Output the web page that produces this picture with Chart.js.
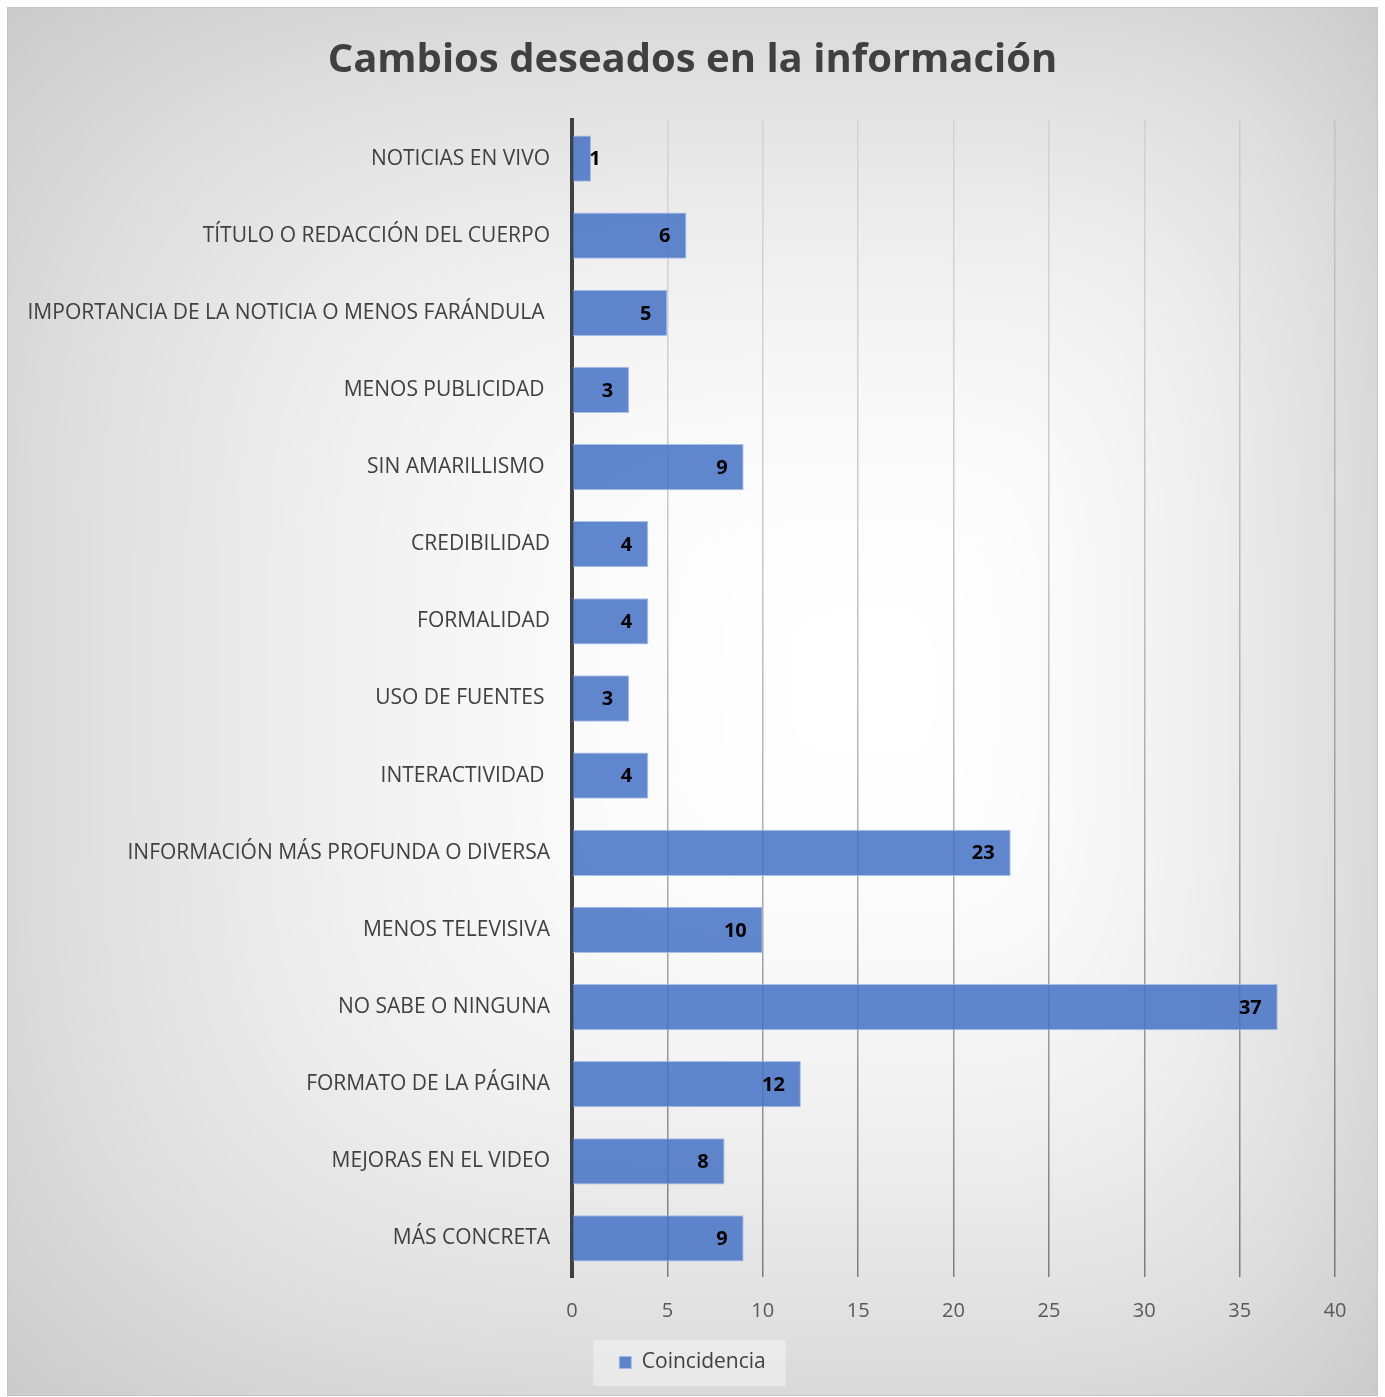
<!DOCTYPE html>
<html>
<head>
<meta charset="utf-8">
<script src="https://cdn.jsdelivr.net/npm/chart.js@4.4.1/dist/chart.umd.min.js"></script>
<style>
  html, body { margin: 0; padding: 0; background: #fff; }
  #wrap { position: absolute; left: 7px; top: 7px; width: 1369px; height: 1387px; border: 1px solid #c4c4c4; }
</style>
</head>
<body>
<div id="wrap"><canvas id="chart"></canvas></div>
<script>
// categorias y valores
var categories = [
  'NOTICIAS EN VIVO',
  'TÍTULO O REDACCIÓN DEL CUERPO',
  'IMPORTANCIA DE LA NOTICIA O MENOS FARÁNDULA ',
  'MENOS PUBLICIDAD ',
  'SIN AMARILLISMO ',
  'CREDIBILIDAD',
  'FORMALIDAD',
  'USO DE FUENTES ',
  'INTERACTIVIDAD ',
  'INFORMACIÓN MÁS PROFUNDA O DIVERSA',
  'MENOS TELEVISIVA',
  'NO SABE O NINGUNA',
  'FORMATO DE LA PÁGINA',
  'MEJORAS EN EL VIDEO',
  'MÁS CONCRETA'
];
var coincidencia = [1, 6, 5, 3, 9, 4, 4, 3, 4, 23, 10, 37, 12, 8, 9];
var xMin = 0, xMax = 40, xStep = 5;
var seriesName = 'Coincidencia';
var chartTitle = 'Cambios deseados en la información';

var FONT = "'Open Sans', sans-serif";

// fondo degradado tipo Excel (centro blanco, bordes grises)
var bgCache = null;
function makeBackground(w, h) {
  var c = document.createElement('canvas');
  c.width = w; c.height = h;
  var g = c.getContext('2d');
  var img = g.createImageData(w, h);
  var cx = 872, cy = 672;
  for (var y = 0; y < h; y++) {
    var dy = (y - cy) / (y < cy ? cy : h - cy);
    var dy4 = dy * dy * dy * dy;
    for (var x = 0; x < w; x++) {
      var dx = (x - cx) / (x < cx ? cx : w - cx);
      var t = Math.pow(dx * dx * dx * dx + dy4, 0.25);
      var v = Math.round(255 - 38 * Math.pow(t, 1.9));
      if (v < 190) v = 190;
      var i = (y * w + x) * 4;
      img.data[i] = v; img.data[i + 1] = v; img.data[i + 2] = v; img.data[i + 3] = 255;
    }
  }
  g.putImageData(img, 0, 0);
  return c;
}

var backgroundPlugin = {
  id: 'bgGradient',
  beforeDraw: function (chart) {
    var ctx = chart.ctx;
    if (!bgCache || bgCache.width !== chart.width || bgCache.height !== chart.height) {
      bgCache = makeBackground(chart.width, chart.height);
    }
    ctx.save();
    ctx.drawImage(bgCache, 0, 0);
    // recuadro claro detras de la leyenda
    var lg = chart.legend;
    if (lg && lg.legendHitBoxes && lg.legendHitBoxes.length) {
      var hb = lg.legendHitBoxes[0];
      ctx.fillStyle = 'rgba(255,255,255,0.38)';
      ctx.fillRect(hb.left - 26, hb.top - 12, hb.width + 46, hb.height + 25);
    }
    ctx.restore();
  }
};

var valueLabels = {
  id: 'valueLabels',
  afterDatasetsDraw: function (chart) {
    var ctx = chart.ctx;
    var meta = chart.getDatasetMeta(0);
    ctx.save();
    ctx.font = 'bold 20px ' + FONT;
    ctx.fillStyle = '#000';
    ctx.textAlign = 'right';
    ctx.textBaseline = 'middle';
    meta.data.forEach(function (bar, i) {
      var x = Math.max(bar.x - 16, bar.base + 28);
      ctx.fillText(String(coincidencia[i]), x, bar.y + 1);
    });
    ctx.restore();
  }
};

function gridColor(context) {
  if (context.tick && context.tick.value === 0) return 'rgba(0,0,0,0)';
  var chart = context.chart;
  var area = chart.chartArea;
  if (!area) return 'rgba(0,0,0,0.25)';
  var grad = chart.ctx.createLinearGradient(0, area.top, 0, area.bottom);
  grad.addColorStop(0, 'rgba(0,0,0,0.08)');
  grad.addColorStop(1, 'rgba(0,0,0,0.45)');
  return grad;
}

document.addEventListener('DOMContentLoaded', function () {
  var ctx = document.getElementById('chart').getContext('2d');
  new Chart(ctx, {
    type: 'bar',
    data: {
      labels: categories,
      datasets: [{
        label: seriesName,
        data: coincidencia,
        backgroundColor: 'rgba(68,114,196,0.85)',
        borderColor: 'rgba(160,186,230,0.9)',
        borderWidth: 1,
        barPercentage: 0.6,
        categoryPercentage: 1
      }]
    },
    options: {
      indexAxis: 'y',
      responsive: true,
      maintainAspectRatio: false,
      animation: false,
      layout: { padding: { top: 5, right: 0, bottom: 12, left: 0 } },
      scales: {
        x: {
          min: xMin,
          max: xMax,
          ticks: {
            stepSize: xStep,
            color: '#595959',
            font: { family: FONT, size: 20 },
            padding: 22
          },
          grid: { color: gridColor, lineWidth: 1.5, drawTicks: false },
          border: { display: false },
          afterFit: function (scale) { scale.height = 65; }
        },
        y: {
          ticks: {
            color: '#404040',
            font: { family: FONT, size: 21 },
            padding: 22,
            autoSkip: false
          },
          grid: { display: false, drawTicks: false },
          border: { display: true, color: '#404040', width: 4 },
          afterFit: function (scale) { scale.width = 564; }
        },
        // eje vacio a la derecha: solo reserva margen
        yRight: {
          type: 'category',
          position: 'right',
          ticks: { display: false },
          grid: { display: false, drawTicks: false },
          border: { display: false },
          afterFit: function (scale) { scale.width = 42; }
        }
      },
      plugins: {
        title: {
          display: true,
          text: chartTitle,
          color: '#404040',
          font: { family: FONT, size: 40, weight: 'bold' },
          padding: { top: 24, bottom: 35 }
        },
        legend: {
          position: 'bottom',
          labels: {
            color: '#404040',
            font: { family: FONT, size: 21 },
            boxWidth: 12,
            boxHeight: 12,
            padding: 10
          }
        },
        tooltip: { enabled: false }
      }
    },
    plugins: [backgroundPlugin, valueLabels]
  });
});
</script>
</body>
</html>
